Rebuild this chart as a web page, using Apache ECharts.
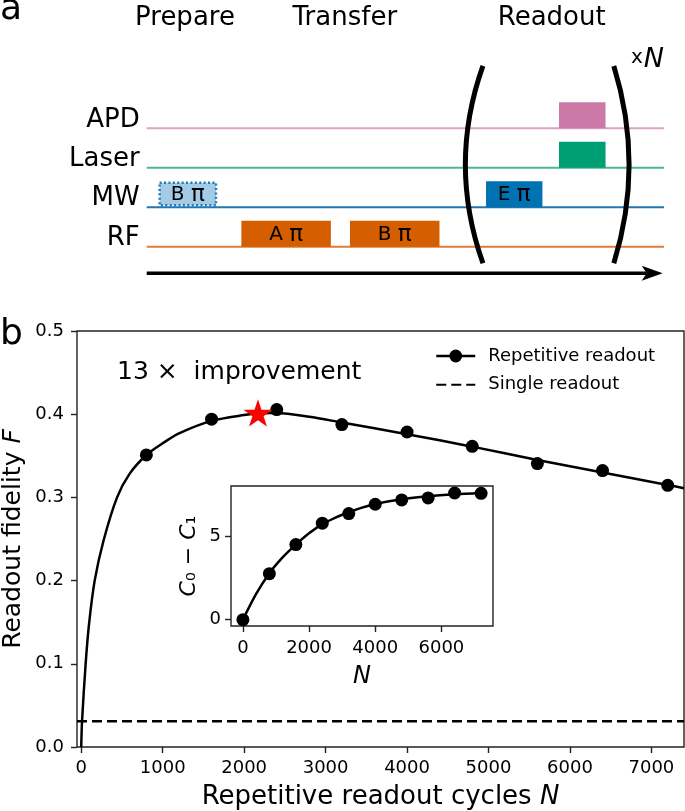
<!DOCTYPE html>
<html><head><meta charset="utf-8">
<script src="https://cdn.jsdelivr.net/npm/echarts@6/dist/echarts.min.js"></script>
<style>html,body{margin:0;padding:0;background:#fff}#c{width:685px;height:811px}</style>
</head><body><div id="c"></div>
<script>
const FONT = 'DejaVu Sans';
// ---------- panel b : main plot ----------
const repN = [800, 1600, 2400, 3200, 4000, 4800, 5600, 6400, 7200];
const repF = [0.351, 0.394, 0.4055, 0.3875, 0.3786, 0.3614, 0.3406, 0.3322, 0.3145];
const fitN = [0, 10, 54, 96, 165, 275, 440, 595, 800, 1000, 1200, 1600, 2000, 2200, 2400, 2800, 3200, 4000, 4800, 5600, 6400, 7200, 7400];
const fitF = [0, 0.031, 0.1, 0.148, 0.2, 0.2485, 0.3, 0.3286, 0.351, 0.365, 0.377, 0.392, 0.399, 0.401, 0.4015, 0.397, 0.39, 0.376, 0.361, 0.345, 0.33, 0.315, 0.311];
const bestN = [2170];
const bestF = [0.4015];
const singleF = 0.031;
const mainXRange = [-52, 7400];
const mainXTicks = [0, 1000, 2000, 3000, 4000, 5000, 6000, 7000];
// ---------- inset ----------
const insetN = [0, 800, 1600, 2400, 3200, 4000, 4800, 5600, 6400, 7200];
const insetC = [0, 2.77, 4.52, 5.81, 6.39, 6.95, 7.21, 7.33, 7.63, 7.61];
const insetFitN = [0, 400, 800, 1200, 1600, 2000, 2400, 2800, 3200, 3600, 4000, 4800, 5600, 6400, 7200];
const insetFitC = [0, 1.55, 2.8, 3.75, 4.52, 5.2, 5.75, 6.15, 6.47, 6.75, 6.97, 7.25, 7.43, 7.55, 7.63];
const insetXTicks = [0, 2000, 4000, 6000];
const insetYTicks = [0, 5];
// ---------- panel a : pulse sequence ----------
const channels = ['RF', 'MW', 'Laser', 'APD'];
const pulses = [
  {ch: 'MW', start: 2.5, end: 13.4, letter: 'B', kind: 'prep'},
  {ch: 'RF', start: 18.3, end: 35.6, letter: 'A'},
  {ch: 'RF', start: 39.3, end: 56.6, letter: 'B'},
  {ch: 'MW', start: 65.6, end: 76.5, letter: 'E'},
  {ch: 'Laser', start: 79.7, end: 88.7, letter: ''},
  {ch: 'APD', start: 79.7, end: 88.7, letter: ''}
];
const phases = ['Prepare', 'Transfer', 'Readout'];
const phaseX = [7.4, 38.3, 78.3];
const readoutBracket = [65.0, 90.3];
const repeatLabel = '{x|x}{n|N}';

const lineColor = {APD: '#dba2c8', Laser: '#4db793', MW: '#1f77b4', RF: '#e07b39'};
const pulseColor = {APD: '#cc79a7', Laser: '#009e73', MW: '#0072b2', RF: '#d55e00'};

const xy = (xs, ys) => xs.map((x, i) => [x, ys[i]]);
const AX = '#222';
const tickStyle = {lineStyle: {color: AX, width: 1.4}, length: 6, inside: false};
const noLine = {show: false, onZero: false};
const plain = v => String(v);

function renderBaseline(params, api) {
  const i = params.dataIndex;
  const a = api.coord([0, i]), b = api.coord([100, i]);
  return {type: 'line', shape: {x1: a[0], y1: a[1], x2: b[0], y2: b[1]},
    style: {stroke: lineColor[channels[i]], lineWidth: 2}};
}
function renderPulse(params, api) {
  const p = pulses[params.dataIndex];
  const ci = channels.indexOf(p.ch);
  const prep = p.kind === 'prep';
  const a = api.coord([p.start, ci + (prep ? 0.05 : 0)]);
  const b = api.coord([p.end, ci + (prep ? 0.62 : 0.66)]);
  const r = {x: a[0], y: b[1], width: b[0] - a[0], height: a[1] - b[1]};
  const children = [{type: 'rect', shape: r,
    style: prep ? {fill: '#a3cbe6', stroke: '#1f77b4', lineWidth: 2.4, lineDash: [2, 2.4]} : {fill: pulseColor[p.ch]}}];
  if (p.letter) children.push({type: 'text', style: {text: p.letter + ' {p|π}', x: r.x + r.width / 2, y: r.y + r.height / 2 + 1,
    align: 'center', verticalAlign: 'middle', fontSize: 20, fontFamily: FONT, fill: '#000',
    rich: {p: {fontSize: 23, fontFamily: FONT, fill: '#000'}}}});
  return {type: 'group', children};
}
function renderAnnot(params, api) {
  const ch = [];
  phases.forEach((t, i) => {
    const p = api.coord([phaseX[i], 5.8]);
    ch.push({type: 'text', style: {text: t, x: p[0], y: p[1], align: 'center', verticalAlign: 'middle',
      fontSize: 26, fontFamily: FONT, fill: '#000'}});
  });
  const top = 4.58, bot = -0.42, mid = (top + bot) / 2;
  const L = readoutBracket[0], R = readoutBracket[1];
  const lt = api.coord([L, top]), lb = api.coord([L, bot]), lc = api.coord([L - 6.8, mid]);
  const rt = api.coord([R, top]), rb = api.coord([R, bot]), rc = api.coord([R + 5.9, mid]);
  ch.push({type: 'bezierCurve', shape: {x1: lt[0], y1: lt[1], x2: lb[0], y2: lb[1], cpx1: lc[0], cpy1: lc[1]},
    style: {stroke: '#000', lineWidth: 5, fill: null}});
  ch.push({type: 'bezierCurve', shape: {x1: rt[0], y1: rt[1], x2: rb[0], y2: rb[1], cpx1: rc[0], cpy1: rc[1]},
    style: {stroke: '#000', lineWidth: 5, fill: null}});
  const xn = api.coord([93.6, 4.72]);
  ch.push({type: 'text', style: {text: repeatLabel, x: xn[0], y: xn[1], align: 'left', verticalAlign: 'middle',
    fontFamily: FONT, fill: '#000',
    rich: {x: {fontSize: 20, fontFamily: FONT, padding: [0, 1, 6, 0]}, n: {fontSize: 27, fontStyle: 'italic', fontFamily: FONT}}}});
  const a0 = api.coord([0, -0.675]), a1 = api.coord([99.75, -0.675]);
  ch.push({type: 'line', shape: {x1: a0[0], y1: a0[1], x2: a1[0] - 16, y2: a1[1]}, style: {stroke: '#000', lineWidth: 3.5}});
  ch.push({type: 'polygon', shape: {points: [[a1[0], a1[1]], [a1[0] - 21, a1[1] - 7.5], [a1[0] - 16, a1[1]], [a1[0] - 21, a1[1] + 7.5]]},
    style: {fill: '#000'}});
  return {type: 'group', children: ch};
}

const starPath = 'path://M50,0 L61.8,35.1 L98.9,35.1 L68.8,56.8 L80.2,91.9 L50,70.2 L19.8,91.9 L31.2,56.8 L1.1,35.1 L38.2,35.1 Z';

const chart = echarts.init(document.getElementById('c'), null, {renderer: 'canvas'});
chart.setOption({
  animation: false,
  backgroundColor: '#fff',
  textStyle: {fontFamily: FONT},
  grid: [
    {left: 77, top: 331, width: 607, height: 416, show: true, borderColor: AX, borderWidth: 1.4, backgroundColor: 'transparent', outerBoundsMode: 'none', containLabel: false},
    {left: 231, top: 486, width: 262, height: 140, show: true, borderColor: AX, borderWidth: 1.4, backgroundColor: '#fff', outerBoundsMode: 'none', containLabel: false},
    {left: 146.7, top: 128.3, width: 517.3, height: 118.4, show: false, outerBoundsMode: 'none', containLabel: false}
  ],
  xAxis: [
    {gridIndex: 0, type: 'value', min: mainXRange[0], max: mainXRange[1],
      axisLine: noLine, splitLine: {show: false},
      axisTick: Object.assign({customValues: mainXTicks}, tickStyle),
      axisLabel: {customValues: mainXTicks, fontSize: 18, color: '#000', margin: 12, formatter: plain},
      name: 'Repetitive readout cycles {i|N}', nameLocation: 'middle', nameGap: 37, nameMoveOverlap: false,
      nameTextStyle: {fontSize: 26, color: '#000', rich: {i: {fontStyle: 'italic', fontSize: 26, fontFamily: FONT}}}},
    {gridIndex: 1, type: 'value', min: -360, max: 7560,
      axisLine: noLine, splitLine: {show: false},
      axisTick: Object.assign({customValues: insetXTicks}, tickStyle),
      axisLabel: {customValues: insetXTicks, fontSize: 18, color: '#000', margin: 13, formatter: plain},
      name: '{i|N}', nameLocation: 'middle', nameGap: 39, nameMoveOverlap: false,
      nameTextStyle: {fontSize: 24, color: '#000', rich: {i: {fontStyle: 'italic', fontSize: 24, fontFamily: FONT}}}},
    {gridIndex: 2, type: 'value', min: 0, max: 100, show: false}
  ],
  yAxis: [
    {gridIndex: 0, type: 'value', min: 0, max: 0.5, interval: 0.1,
      axisLine: noLine, splitLine: {show: false}, axisTick: tickStyle,
      axisLabel: {fontSize: 18, color: '#000', margin: 13, formatter: v => v.toFixed(1)},
      name: 'Readout fidelity {i|F}', nameLocation: 'middle', nameGap: 51, nameMoveOverlap: false,
      nameTextStyle: {fontSize: 25, color: '#000', rich: {i: {fontStyle: 'italic', fontSize: 25, fontFamily: FONT}}}},
    {gridIndex: 1, type: 'value', min: -0.38, max: 8.05,
      axisLine: noLine, splitLine: {show: false},
      axisTick: Object.assign({customValues: insetYTicks}, tickStyle),
      axisLabel: {customValues: insetYTicks, fontSize: 18, color: '#000', margin: 10, formatter: plain},
      name: '{i|C}₀ − {i|C}₁', nameLocation: 'middle', nameGap: 31, nameMoveOverlap: false,
      nameTextStyle: {fontSize: 22, color: '#000', rich: {i: {fontStyle: 'italic', fontSize: 22, fontFamily: FONT}}}},
    {gridIndex: 2, type: 'value', min: 0, max: 3, interval: 1,
      axisLine: noLine, axisTick: {show: false}, splitLine: {show: false},
      axisLabel: {fontSize: 26, color: '#000', margin: 7, verticalAlign: 'bottom', lineHeight: 17,
        formatter: v => channels[v] || ''}}
  ],
  legend: {
    left: 435, top: 347, orient: 'vertical', padding: 0, itemWidth: 39, itemHeight: 16, itemGap: 10.7,
    selectedMode: false,
    textStyle: {fontFamily: FONT, fontSize: 18, color: '#000', padding: [0, 0, 0, 8]},
    data: [
      {name: 'Repetitive readout', lineStyle: {opacity: 1, width: 2.5, color: '#000', type: 'solid'}},
      {name: 'Single readout', itemStyle: {opacity: 0}}
    ]
  },
  graphic: [
    {type: 'text', x: 0, y: 10, style: {text: 'a', fontSize: 36, fontFamily: FONT, fill: '#000', verticalAlign: 'middle'}},
    {type: 'text', x: 0, y: 335, style: {text: 'b', fontSize: 36, fontFamily: FONT, fill: '#000', verticalAlign: 'middle'}},
    {type: 'text', x: 117, y: 372, style: {text: '13 ×  improvement', fontSize: 25, fontFamily: FONT, fill: '#000', verticalAlign: 'middle'}}
  ],
  series: [
    {type: 'line', xAxisIndex: 0, yAxisIndex: 0, data: xy(fitN, fitF), smooth: 0.3,
      symbol: 'none', lineStyle: {color: '#000', width: 2.5}, z: 3},
    {name: 'Repetitive readout', type: 'line', xAxisIndex: 0, yAxisIndex: 0, data: xy(repN, repF),
      symbol: 'circle', symbolSize: 13, itemStyle: {color: '#000', opacity: 1}, lineStyle: {width: 0, opacity: 0}, z: 4},
    {name: 'Single readout', type: 'line', xAxisIndex: 0, yAxisIndex: 0, data: [[mainXRange[0], singleF], [mainXRange[1], singleF]],
      symbol: 'none', lineStyle: {color: '#000', width: 2.5, type: [10, 5]}, z: 3},
    {type: 'scatter', xAxisIndex: 0, yAxisIndex: 0, data: xy(bestN, bestF), symbol: starPath, symbolKeepAspect: true,
      symbolSize: 29, itemStyle: {color: '#ff0000', opacity: 1}, z: 5},
    {type: 'line', xAxisIndex: 1, yAxisIndex: 1, data: xy(insetFitN, insetFitC), smooth: 0.3,
      symbol: 'none', lineStyle: {color: '#000', width: 2.5}, z: 6},
    {type: 'scatter', xAxisIndex: 1, yAxisIndex: 1, data: xy(insetN, insetC), symbol: 'circle', symbolSize: 13,
      itemStyle: {color: '#000', opacity: 1}, z: 7},
    {type: 'custom', xAxisIndex: 2, yAxisIndex: 2, clip: false, data: channels.map((c, i) => [0, i]), renderItem: renderBaseline, z: 2},
    {type: 'custom', xAxisIndex: 2, yAxisIndex: 2, clip: false, data: pulses.map(p => [p.start, channels.indexOf(p.ch)]), renderItem: renderPulse, z: 3},
    {type: 'custom', xAxisIndex: 2, yAxisIndex: 2, clip: false, data: [[0, 0]], renderItem: renderAnnot, z: 4}
  ]
});
</script></body></html>
